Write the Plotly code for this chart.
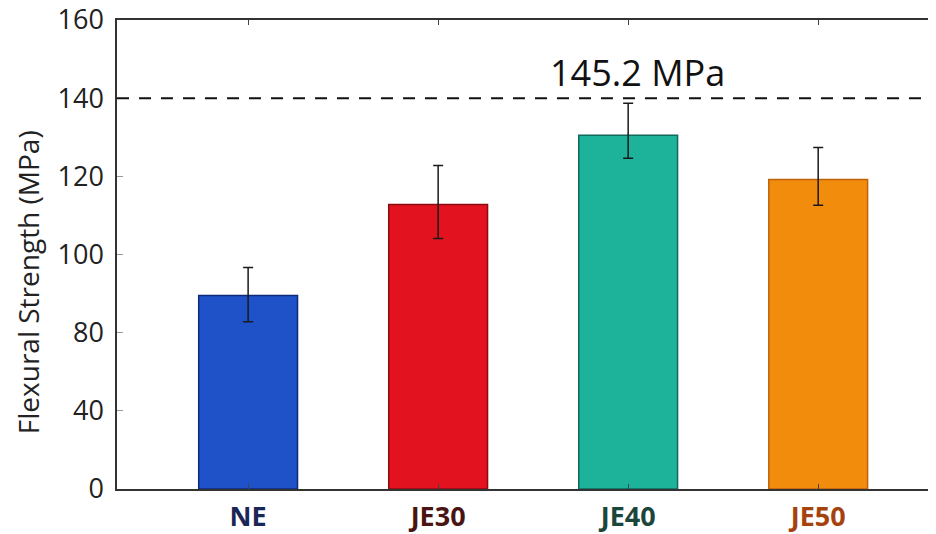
import plotly.graph_objects as go

categories = ["NE", "JE30", "JE40", "JE50"]
strength = [89.5, 112.8, 130.5, 119.2]
err_plus = [7.2, 10.0, 8.2, 8.2]
err_minus = [6.7, 8.7, 5.9, 6.6]
ref_value = 140
ref_label = "145.2 MPa"
y_tick_values = [0, 40, 80, 100, 120, 140, 160]

bar_colors = ["#1f52c9", "#e2131f", "#1db39b", "#f28c0c"]
edge_colors = ["#0f2a78", "#8a0c12", "#0e6b5c", "#c0620a"]
label_colors = ["#1a2658", "#4a1414", "#1b463c", "#a6420e"]


def axis_pos(v):
    # broken axis: 0-80 in steps of 40, 80-160 in steps of 20
    return v / 40.0 if v <= 80 else 2 + (v - 80) / 20.0


xs = list(range(len(categories)))
ys = [axis_pos(v) for v in strength]
ep = [axis_pos(v + p) - axis_pos(v) for v, p in zip(strength, err_plus)]
em = [axis_pos(v) - axis_pos(v - m) for v, m in zip(strength, err_minus)]

fig = go.Figure()
fig.add_trace(go.Bar(
    x=xs, y=ys, width=0.52,
    marker=dict(color=bar_colors, line=dict(color=edge_colors, width=1.5)),
    error_y=dict(type="data", symmetric=False, array=ep, arrayminus=em,
                 color="#1a1a1a", thickness=1.5, width=5),
    showlegend=False,
))

fig.add_shape(type="line", xref="paper", yref="y", x0=0, x1=0.99,
              y0=axis_pos(ref_value), y1=axis_pos(ref_value),
              line=dict(color="#111111", width=2, dash="12px,10px"))

fig.add_annotation(x=2.05, y=axis_pos(ref_value), yshift=26, text=ref_label,
                   showarrow=False, font=dict(size=36, color="#111111", family="Open Sans"))

fig.add_annotation(xref="paper", yref="paper", x=-0.1087, y=0.441,
                   xanchor="center", yanchor="middle",
                   text="Flexural Strength (MPa)", textangle=-90, showarrow=False,
                   font=dict(size=28, color="#222222", family="Open Sans"))

ticktext = [f"<b><span style='color:{c}'>{t}</span></b>" for t, c in zip(categories, label_colors)]

fig.update_layout(
    width=928, height=526,
    margin=dict(l=109, r=0, t=12, b=45),
    paper_bgcolor="white", plot_bgcolor="white",
    font=dict(family="Open Sans", color="#222222"),
    bargap=0.48,
    xaxis=dict(
        range=[-0.69, 3.62], tickvals=xs, ticktext=ticktext,
        ticks="inside", ticklen=5, tickcolor="#444444",
        showline=True, linecolor="#333333", linewidth=1.5, mirror="ticks",
        showgrid=False, zeroline=False, automargin=False,
        ticklabelstandoff=3, ticklabeloverflow="allow",
        tickfont=dict(size=27, family="Open Sans"),
    ),
    yaxis=dict(
        range=[0, 6], tickvals=[axis_pos(v) for v in y_tick_values],
        ticktext=[str(v) for v in y_tick_values],
        ticks="inside", ticklen=6, tickcolor="#999999",
        showline=True, linecolor="#333333", linewidth=1.5,
        showgrid=False, zeroline=False, ticklabelstandoff=6, automargin=False,
        ticklabeloverflow="allow",
        tickfont=dict(size=27, color="#222222", family="Open Sans"),
    ),
)

fig.write_html("out.html")
